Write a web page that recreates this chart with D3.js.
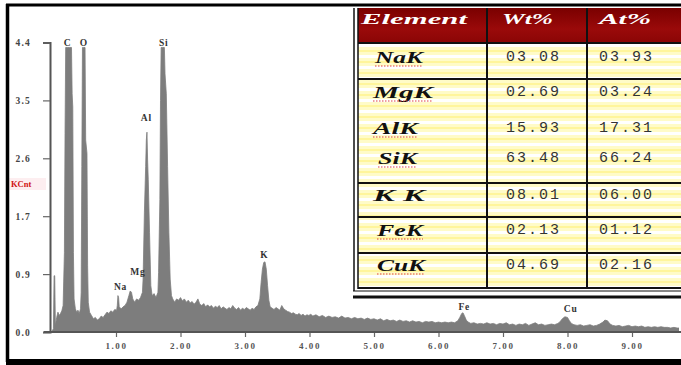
<!DOCTYPE html>
<html>
<head>
<meta charset="utf-8">
<script src="https://cdn.jsdelivr.net/npm/d3@7"></script>
<style>
  html, body { margin: 0; padding: 0; background: #fff; }
  svg { display: block; }
</style>
</head>
<body>
<svg id="chart" width="681" height="365"></svg>
<script>
// EDS spectrum: energy (keV) and counts (kCnt)
const energy = [
  0.00,0.03,0.04,0.05,0.06,0.08,0.10,0.12,0.14,0.16,0.18,
  0.20,0.21,0.22,0.25,0.28,0.31,0.32,0.33,0.34,0.35,
  0.37,0.39,0.41,0.43,0.45,
  0.46,0.47,0.48,0.50,0.52,0.53,0.55,0.56,0.57,
  0.59,0.62,0.65,0.68,0.71,0.74,0.77,0.80,0.83,0.86,0.89,0.92,0.95,0.98,1.01,
  1.02,1.03,1.04,1.05,1.08,1.11,1.14,1.17,
  1.20,1.22,1.24,1.26,1.29,1.32,1.35,1.38,1.41,
  1.42,1.44,1.46,1.47,1.48,1.49,1.50,1.52,1.54,1.56,1.59,1.62,1.65,
  1.66,1.68,1.69,1.70,1.72,1.75,1.76,1.78,1.80,1.82,1.84,1.86,
  1.88,1.91,1.94,1.97,2.00,2.03,2.06,2.09,2.12,2.15,2.18,2.21,2.24,2.27,2.30,2.33,2.36,2.39,
  2.42,2.45,2.48,2.51,2.54,2.57,2.60,2.63,2.66,2.69,2.72,2.75,2.78,2.81,2.84,2.87,2.90,2.93,
  2.96,2.99,3.02,3.05,3.08,3.11,3.14,3.17,
  3.20,3.23,3.25,3.27,3.29,3.31,3.33,3.35,3.37,3.39,3.42,3.45,3.48,3.51,3.54,3.57,
  3.60,3.63,3.66,3.69,3.72,3.75,3.78,3.81,3.84,3.87,3.90,3.93,3.96,3.99,4.02,4.05,
  4.10,4.15,4.20,4.25,4.30,4.35,4.40,4.45,4.50,4.55,4.60,4.65,4.70,4.75,4.80,4.85,4.90,4.95,
  5.00,5.05,5.10,5.15,5.20,5.25,5.30,5.35,5.40,5.45,5.50,5.55,5.60,5.65,5.70,5.75,5.80,5.85,
  5.90,5.95,6.00,6.05,6.10,6.15,6.20,6.25,6.30,
  6.33,6.36,6.38,6.40,6.43,6.46,6.50,6.55,6.60,6.65,6.70,6.75,6.80,6.85,6.90,6.95,7.00,7.05,
  7.10,7.15,7.20,7.25,7.30,7.35,7.40,7.45,7.50,7.55,7.60,7.65,7.70,7.75,7.80,7.85,
  7.88,7.92,7.96,8.00,8.03,8.06,8.10,8.15,8.20,8.25,8.30,8.35,8.40,8.45,8.50,8.55,8.58,8.62,
  8.66,8.70,8.75,8.80,8.85,8.90,8.95,9.00,9.05,9.10,9.15,9.20,9.25,9.30,9.35,9.40,9.45,9.50,
  9.55,9.60,9.65,9.70,9.75,9.80
];
const counts = [
  0.00,0.05,0.85,0.85,0.10,0.22,0.30,0.25,0.28,0.32,0.40,
  1.20,3.00,4.30,4.30,4.30,4.30,3.60,3.40,1.20,0.50,
  0.35,0.30,0.33,0.28,0.35,
  0.60,2.50,4.30,4.30,4.30,2.90,2.70,1.00,0.45,
  0.30,0.25,0.20,0.22,0.18,0.20,0.24,0.22,0.26,0.30,0.28,0.32,0.30,0.34,0.33,
  0.40,0.55,0.52,0.38,0.35,0.38,0.40,0.45,
  0.55,0.62,0.60,0.50,0.45,0.50,0.48,0.52,0.60,
  0.80,1.80,2.50,2.90,3.02,2.60,2.30,1.50,0.70,0.55,0.58,0.52,0.60,
  0.90,2.00,3.50,4.30,4.30,4.30,3.90,3.60,2.50,1.50,0.80,0.55,
  0.50,0.45,0.50,0.48,0.52,0.47,0.50,0.45,0.48,0.44,0.46,0.42,0.45,0.50,0.42,0.40,0.43,0.38,
  0.41,0.38,0.40,0.36,0.39,0.37,0.40,0.35,0.38,0.36,0.34,0.37,0.35,0.40,0.36,0.34,0.37,0.33,
  0.36,0.34,0.37,0.35,0.33,0.36,0.34,0.38,
  0.40,0.50,0.75,0.95,1.05,1.06,0.95,0.70,0.48,0.38,0.36,0.34,0.37,0.35,0.33,0.40,
  0.35,0.33,0.31,0.30,0.28,0.29,0.27,0.26,0.28,0.25,0.27,0.24,0.26,0.25,0.27,0.24,
  0.26,0.23,0.25,0.22,0.24,0.22,0.23,0.21,0.24,0.21,0.22,0.20,0.22,0.20,0.21,0.19,0.21,0.19,
  0.20,0.18,0.20,0.17,0.19,0.17,0.18,0.16,0.18,0.16,0.17,0.15,0.17,0.15,0.16,0.14,0.16,0.15,
  0.16,0.14,0.15,0.14,0.15,0.14,0.15,0.14,0.17,
  0.22,0.28,0.29,0.25,0.18,0.15,0.13,0.14,0.12,0.13,0.12,0.14,0.12,0.13,0.11,0.13,0.12,0.14,
  0.11,0.12,0.10,0.12,0.11,0.13,0.10,0.12,0.14,0.11,0.12,0.10,0.11,0.12,0.11,0.13,
  0.15,0.20,0.23,0.22,0.17,0.13,0.11,0.10,0.11,0.09,0.10,0.11,0.09,0.10,0.12,0.15,0.18,0.17,
  0.12,0.10,0.09,0.10,0.08,0.09,0.10,0.08,0.09,0.08,0.09,0.07,0.08,0.07,0.08,0.07,0.08,0.07,
  0.07,0.06,0.07,0.06,0.06,0.06
];

// axis ticks
const yTicks = [0, 0.875, 1.75, 2.625, 3.5, 4.375];
const yTickLabels = ["0.0", "0.9", "1.7", "2.6", "3.5", "4.4"];
const xTicks = [1, 2, 3, 4, 5, 6, 7, 8, 9];
const xTickLabels = ["1.00", "2.00", "3.00", "4.00", "5.00", "6.00", "7.00", "8.00", "9.00"];

// peak annotations
const peakNames = ["C", "O", "Na", "Mg", "Al", "Si", "K", "Fe", "Cu"];
const peakEnergy = [0.25, 0.50, 1.07, 1.34, 1.47, 1.74, 3.30, 6.40, 8.05];
const peakLabelLevel = [4.32, 4.32, 0.63, 0.86, 3.19, 4.32, 1.12, 0.33, 0.30];

// composition table
const elements = ["NaK", "MgK", "AlK", "SiK", "K K", "FeK", "CuK"];
const wtPct = ["03.08", "02.69", "15.93", "63.48", "08.01", "02.13", "04.69"];
const atPct = ["03.93", "03.24", "17.31", "66.24", "06.00", "01.12", "02.16"];
const tableHeader = ["Element", "Wt%", "At%"];
const spellFlag = [true, true, true, true, false, true, true];

const svg = d3.select("#chart");
const W = 681, H = 365;

const x = d3.scaleLinear().domain([0, 10]).range([51.5, 696.5]);
const y = d3.scaleLinear().domain([0, 4.375]).range([332, 42.5]);

svg.append("rect").attr("width", W).attr("height", H).attr("fill", "#fff");

svg.append("defs").append("clipPath").attr("id", "plotClip")
  .append("rect").attr("x", 51).attr("y", 0).attr("width", 628).attr("height", 332);

// spectrum area
const pts = energy.map((e, i) => [e, counts[i]]);
const area = d3.area()
  .x(d => x(d[0]))
  .y0(y(0))
  .y1(d => y(d[1]))
  .curve(d3.curveLinear);

svg.append("path")
  .datum(pts)
  .attr("clip-path", "url(#plotClip)")
  .attr("d", area)
  .attr("fill", "#7d7d7d")
  .attr("stroke", "#7d7d7d")
  .attr("stroke-width", 0.8);

// y axis
const yAxis = d3.axisLeft(y)
  .tickValues(yTicks)
  .tickFormat((d, i) => yTickLabels[i])
  .tickSize(7)
  .tickPadding(12);
const gy = svg.append("g").attr("transform", "translate(50,0)").call(yAxis);
gy.select(".domain").attr("stroke", "#555").attr("stroke-width", 2);
gy.selectAll(".tick line").attr("stroke", "#666").attr("stroke-width", 1.2);
gy.selectAll(".tick text")
  .attr("fill", "#444")
  .style("font", "bold 9.5px 'Liberation Serif', serif")
  .style("letter-spacing", "1.2px");

// x axis
const xAxis = d3.axisBottom(x)
  .tickValues(xTicks)
  .tickFormat((d, i) => xTickLabels[i])
  .tickSize(5)
  .tickPadding(6);
const gx = svg.append("g").attr("transform", "translate(0,332)").call(xAxis);
gx.select(".domain").remove();
gx.append("line").attr("x1", 44).attr("x2", 681).attr("y1", 0).attr("y2", 0)
  .attr("stroke", "#555").attr("stroke-width", 2);
gx.selectAll(".tick line").attr("stroke", "#666").attr("stroke-width", 1.2);
gx.selectAll(".tick text")
  .attr("fill", "#555")
  .style("font", "bold 9px 'Liberation Serif', serif")
  .style("letter-spacing", "1.6px");

// y axis unit label
svg.append("rect").attr("x", 8).attr("y", 178).attr("width", 38).attr("height", 12)
  .attr("fill", "#fdeef0");
svg.append("text").attr("x", 11).attr("y", 187)
  .attr("fill", "#d01010")
  .style("font", "bold 8.5px 'Liberation Serif', serif")
  .text("KCnt");

// peak labels
svg.selectAll("text.peak")
  .data(peakNames)
  .join("text")
  .attr("class", "peak")
  .attr("x", (d, i) => x(peakEnergy[i]))
  .attr("y", (d, i) => y(peakLabelLevel[i]))
  .attr("text-anchor", "middle")
  .attr("fill", "#333")
  .style("font", "bold 9.5px 'Liberation Serif', serif")
  .style("letter-spacing", "0.8px")
  .text(d => d);

// table
const tLeft = 358, tRight = 681, tTop = 8, headBottom = 43;
const rowBounds = [43, 79, 113, 148, 183, 217, 253, 288];
const colX = [358, 487, 587, 681];

const defs = svg.select("defs");
const pat = defs.append("pattern").attr("id", "rowFill")
  .attr("patternUnits", "userSpaceOnUse").attr("width", 12).attr("height", 11);
pat.append("rect").attr("width", 12).attr("height", 11).attr("fill", "#fffbc8");
pat.append("rect").attr("y", 0).attr("width", 12).attr("height", 3).attr("fill", "#ffffff");
pat.append("rect").attr("y", 6).attr("width", 12).attr("height", 2).attr("fill", "#fff59c");

const hg = defs.append("linearGradient").attr("id", "headFill")
  .attr("x1", 0).attr("x2", 0).attr("y1", 0).attr("y2", 1);
hg.append("stop").attr("offset", "0%").attr("stop-color", "#7a0000");
hg.append("stop").attr("offset", "60%").attr("stop-color", "#9a0a0a");
hg.append("stop").attr("offset", "100%").attr("stop-color", "#8a0505");

const table = svg.append("g");
table.append("rect").attr("x", 350).attr("y", tTop).attr("width", W - 350).attr("height", 292 - tTop)
  .attr("fill", "#fff");
table.append("rect").attr("x", tLeft).attr("y", headBottom).attr("width", tRight - tLeft)
  .attr("height", rowBounds[rowBounds.length - 1] - headBottom).attr("fill", "url(#rowFill)");
table.append("rect").attr("x", tLeft).attr("y", tTop).attr("width", tRight - tLeft)
  .attr("height", headBottom - tTop).attr("fill", "url(#headFill)");

// header text
const headX = [361, 502, 599];
const headLen = [106, 51, 52];
table.selectAll("text.head")
  .data(tableHeader)
  .join("text")
  .attr("class", "head")
  .attr("x", (d, i) => headX[i])
  .attr("y", 24)
  .attr("textLength", (d, i) => headLen[i])
  .attr("lengthAdjust", "spacingAndGlyphs")
  .attr("fill", "#fff")
  .style("font", "italic bold 15px 'Liberation Serif', serif")
  .text(d => d);

// row positions
const rowY = [63, 98, 134, 164, 201, 236, 271];
const elX = [375, 373, 373, 378, 373, 377, 377];
const elLen = [48, 60, 45, 39, 52, 46, 48];

table.selectAll("text.el")
  .data(elements)
  .join("text")
  .attr("class", "el")
  .attr("x", (d, i) => elX[i])
  .attr("y", (d, i) => rowY[i])
  .attr("textLength", (d, i) => elLen[i])
  .attr("lengthAdjust", "spacingAndGlyphs")
  .attr("fill", "#111")
  .style("font", "italic bold 16px 'Liberation Serif', serif")
  .text(d => d);

table.selectAll("line.spell")
  .data(elements.map((d, i) => i).filter(i => spellFlag[i]))
  .join("line")
  .attr("class", "spell")
  .attr("x1", i => elX[i])
  .attr("x2", i => elX[i] + elLen[i])
  .attr("y1", i => rowY[i] + 3)
  .attr("y2", i => rowY[i] + 3)
  .attr("stroke", "#e04040")
  .attr("stroke-width", 1.2)
  .attr("stroke-dasharray", "1.5,1.5");

table.selectAll("text.wt")
  .data(wtPct)
  .join("text")
  .attr("class", "wt")
  .attr("x", 506)
  .attr("y", (d, i) => rowY[i] - 2)
  .attr("fill", "#333")
  .style("font", "15px 'Liberation Mono', monospace")
  .style("letter-spacing", "2px")
  .text(d => d);

table.selectAll("text.at")
  .data(atPct)
  .join("text")
  .attr("class", "at")
  .attr("x", 599)
  .attr("y", (d, i) => rowY[i] - 2)
  .attr("fill", "#333")
  .style("font", "15px 'Liberation Mono', monospace")
  .style("letter-spacing", "2px")
  .text(d => d);

// table grid
const ruled = [43, 79, 183, 217, 253];
table.selectAll("line.hr")
  .data(ruled)
  .join("line")
  .attr("class", "hr")
  .attr("x1", tLeft).attr("x2", tRight)
  .attr("y1", d => d).attr("y2", d => d)
  .attr("stroke", "#111").attr("stroke-width", 2);
table.selectAll("line.vr")
  .data(colX.slice(1, 3))
  .join("line")
  .attr("class", "vr")
  .attr("x1", d => d).attr("x2", d => d)
  .attr("y1", tTop).attr("y2", 289)
  .attr("stroke", "#111").attr("stroke-width", 2);
// double outer rules
table.append("line").attr("x1", 354).attr("x2", 354).attr("y1", tTop).attr("y2", 291)
  .attr("stroke", "#111").attr("stroke-width", 1.5);
table.append("line").attr("x1", 358).attr("x2", 358).attr("y1", tTop).attr("y2", 289)
  .attr("stroke", "#111").attr("stroke-width", 1.5);
table.append("line").attr("x1", 358).attr("x2", W).attr("y1", 288).attr("y2", 288)
  .attr("stroke", "#111").attr("stroke-width", 2);
table.append("line").attr("x1", 353).attr("x2", W).attr("y1", 291).attr("y2", 291)
  .attr("stroke", "#111").attr("stroke-width", 1);
table.append("line").attr("x1", 353).attr("x2", W).attr("y1", 297).attr("y2", 297)
  .attr("stroke", "#111").attr("stroke-width", 3);

// outer frame
svg.append("line").attr("x1", 6).attr("x2", W).attr("y1", 5).attr("y2", 5)
  .attr("stroke", "#000").attr("stroke-width", 3);
svg.append("line").attr("x1", 7.5).attr("x2", 7.5).attr("y1", 4).attr("y2", 362)
  .attr("stroke", "#000").attr("stroke-width", 3.5);
svg.append("rect").attr("x", 6).attr("y", 359).attr("width", W - 6).attr("height", 6)
  .attr("fill", "#000");
</script>
</body>
</html>
